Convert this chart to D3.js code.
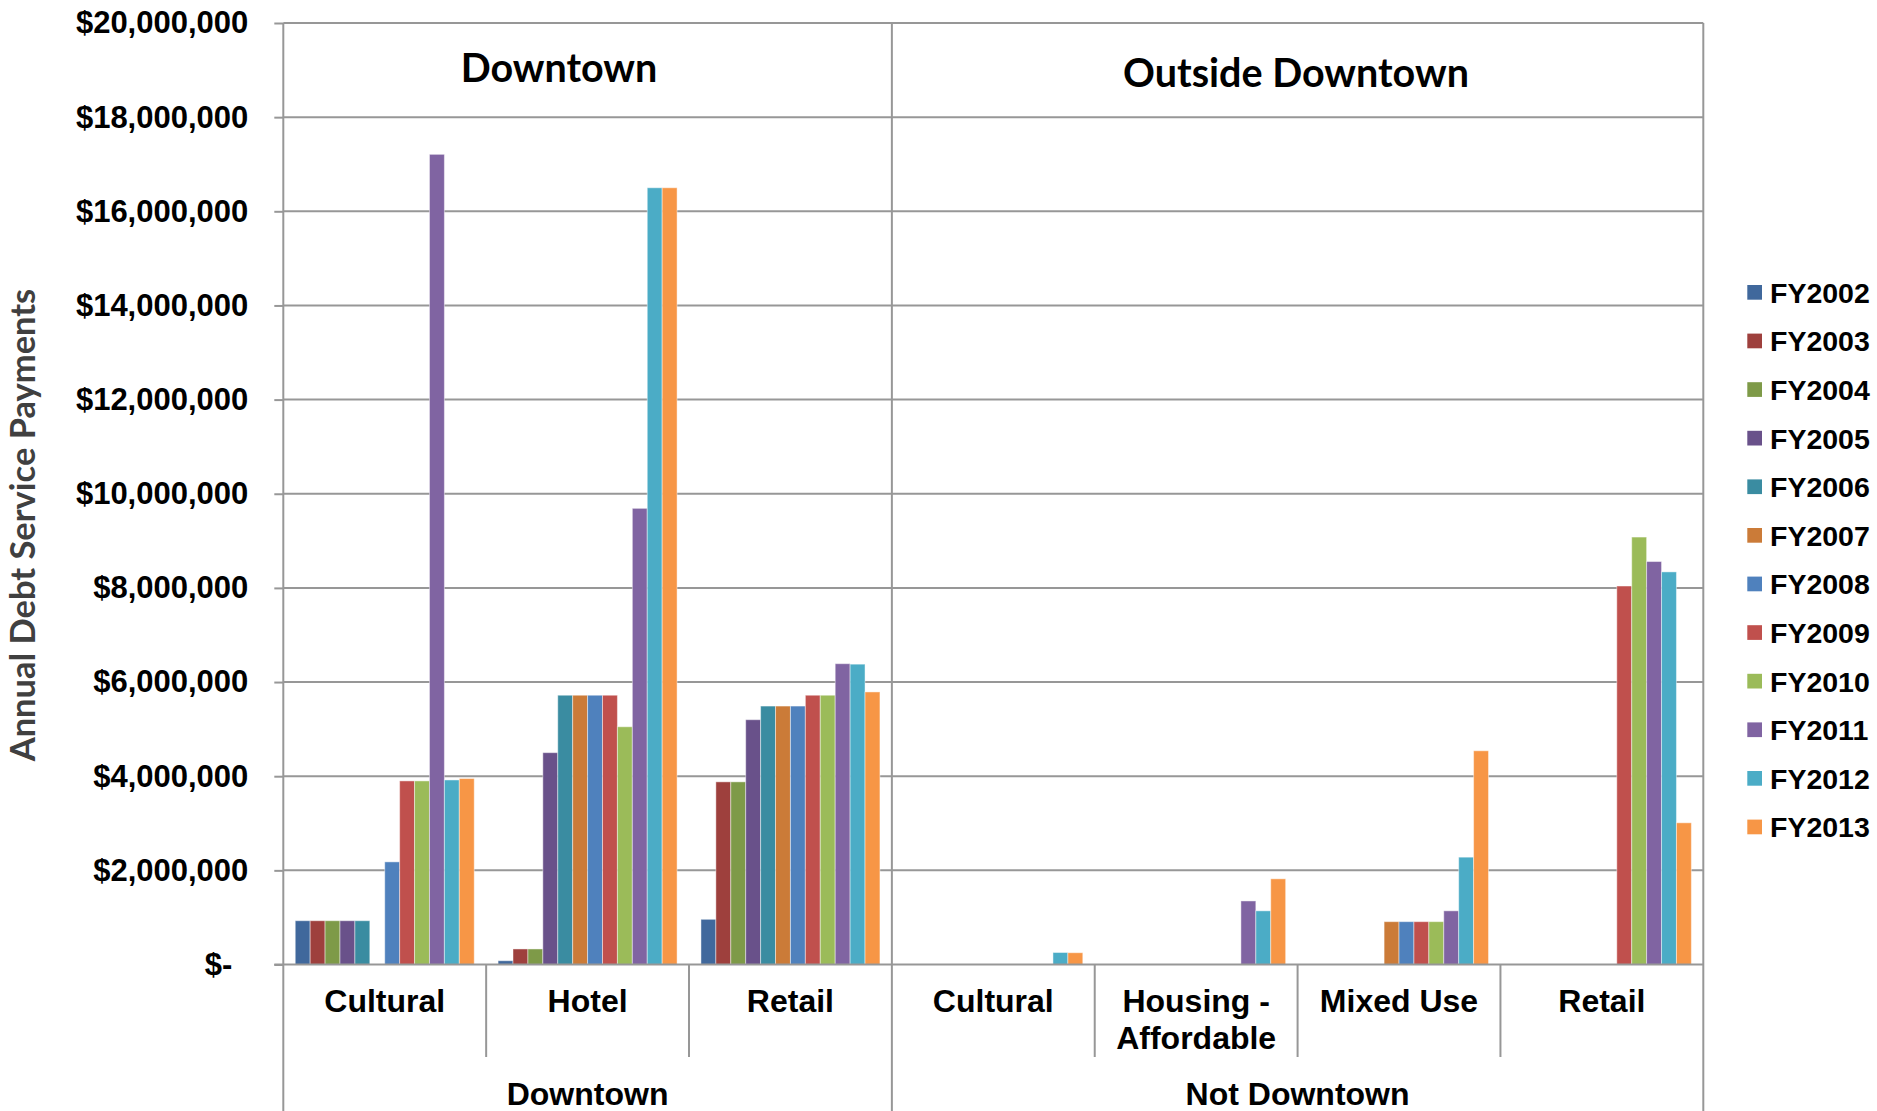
<!DOCTYPE html>
<html>
<head>
<meta charset="utf-8">
<script src="https://cdn.jsdelivr.net/npm/d3@7"></script>
<style>
	html, body { margin: 0; padding: 0; background: #fff; }
	svg { display: block; }
</style>
</head>
<body>
<div id="chart"></div>
<script>
// fiscal years = one series each
var years = ["FY2002", "FY2003", "FY2004", "FY2005", "FY2006", "FY2007",
	"FY2008", "FY2009", "FY2010", "FY2011", "FY2012", "FY2013"];
var yearColors = ["#40689c", "#9e403d", "#7e9a48", "#69518a", "#3a8ca1", "#cb7b38",
	"#4f81bd", "#c0504d", "#9bbb59", "#8064a2", "#4bacc6", "#f79646"];

// x categories, with the location group they belong to
var categories = ["Cultural", "Hotel", "Retail", "Cultural", "Housing - Affordable", "Mixed Use", "Retail"];
var categoryGroups = ["Downtown", "Downtown", "Downtown", "Not Downtown", "Not Downtown", "Not Downtown", "Not Downtown"];
var groupNames = ["Downtown", "Not Downtown"];
var panelTitles = ["Downtown", "Outside Downtown"];

// annual debt service payments ($), FY2002 .. FY2013
var downtownCultural = [930000, 930000, 930000, 930000, 930000, 0, 2180000, 3900000, 3900000, 17210000, 3920000, 3950000];
var downtownHotel = [80000, 330000, 330000, 4500000, 5720000, 5720000, 5720000, 5720000, 5050000, 9690000, 16500000, 16500000];
var downtownRetail = [960000, 3880000, 3880000, 5200000, 5490000, 5490000, 5490000, 5720000, 5720000, 6390000, 6380000, 5790000];
var outsideCultural = [0, 0, 0, 0, 0, 0, 0, 0, 0, 0, 255000, 250000];
var outsideHousing = [0, 0, 0, 0, 0, 0, 0, 0, 0, 1350000, 1140000, 1820000];
var outsideMixedUse = [0, 0, 0, 0, 0, 910000, 910000, 910000, 910000, 1140000, 2280000, 4540000];
var outsideRetail = [0, 0, 0, 0, 0, 0, 0, 8040000, 9080000, 8560000, 8340000, 3010000];

var categoryValues = [downtownCultural, downtownHotel, downtownRetail,
	outsideCultural, outsideHousing, outsideMixedUse, outsideRetail];

var yTicks = [0, 2000000, 4000000, 6000000, 8000000, 10000000, 12000000, 14000000, 16000000, 18000000, 20000000];

// layout
var width = 1877, height = 1111;
var plot = { left: 283.3, right: 1703.3, top: 23, bottom: 964.5 };
var gridColor = "#979797";
var arial = "'Liberation Sans', Arial, sans-serif";
var titleFont = "Lato, 'Open Sans', sans-serif";
var panelTitleX = [559, 1296], panelTitleY = [82, 86.5];

var svg = d3.select("#chart")
	.append("svg")
	.attr("width", width)
	.attr("height", height);

var x0 = d3.scaleBand()
	.domain(d3.range(categories.length))
	.range([plot.left, plot.right]);

var x1 = d3.scaleBand()
	.domain(years)
	.range([0, x0.bandwidth()])
	.paddingOuter(0.8);

var y = d3.scaleLinear()
	.domain([0, 20000000])
	.range([plot.bottom, plot.top]);

// gridlines
svg.append("g")
	.selectAll("line")
	.data(yTicks.slice(1))
	.join("line")
	.attr("x1", plot.left)
	.attr("x2", plot.right)
	.attr("y1", d => y(d))
	.attr("y2", d => y(d))
	.attr("stroke", gridColor)
	.attr("stroke-width", 2);

// y axis (ticks + labels)
var yAxis = svg.append("g")
	.attr("transform", "translate(" + plot.left + ",0)")
	.call(d3.axisLeft(y)
		.tickValues(yTicks)
		.tickSize(9)
		.tickPadding(26)
		.tickFormat(d => d === 0 ? "$-" : d3.format("$,")(d)));
yAxis.select(".domain").remove();
yAxis.selectAll("line").attr("stroke", gridColor).attr("stroke-width", 2);
yAxis.selectAll("text")
	.style("font-family", arial)
	.style("font-size", "31px")
	.style("font-weight", "bold")
	.attr("fill", "#000");
yAxis.selectAll("text").filter(d => d === 0).attr("dx", -16);

// bars
var groups = svg.append("g")
	.selectAll("g")
	.data(categoryValues)
	.join("g")
	.attr("transform", (d, i) => "translate(" + x0(i) + ",0)");

groups.selectAll("rect")
	.data(d => d.map((v, j) => ({ year: years[j], value: v, color: yearColors[j] })).filter(d => d.value > 0))
	.join("rect")
	.attr("x", d => x1(d.year))
	.attr("y", d => y(d.value))
	.attr("width", x1.bandwidth())
	.attr("height", d => y(0) - y(d.value))
	.attr("fill", d => d.color)
	.attr("stroke", "rgba(255,255,255,0.45)")
	.attr("stroke-width", 1);

// baseline
svg.append("line")
	.attr("x1", plot.left - 9)
	.attr("x2", plot.right)
	.attr("y1", y(0))
	.attr("y2", y(0))
	.attr("stroke", gridColor)
	.attr("stroke-width", 2);

// vertical lines: group boundaries run full height, category dividers only below the axis
var groupEdges = [plot.left];
var minorEdges = [];
categories.forEach((c, i) => {
	if (i == 0) return;
	if (categoryGroups[i] != categoryGroups[i - 1]) groupEdges.push(x0(i));
	else minorEdges.push(x0(i));
});
groupEdges.push(plot.right);

svg.append("g")
	.selectAll("line")
	.data(groupEdges)
	.join("line")
	.attr("x1", d => d).attr("x2", d => d)
	.attr("y1", plot.top).attr("y2", height)
	.attr("stroke", gridColor)
	.attr("stroke-width", 2);

svg.append("g")
	.selectAll("line")
	.data(minorEdges)
	.join("line")
	.attr("x1", d => d).attr("x2", d => d)
	.attr("y1", y(0)).attr("y2", 1057)
	.attr("stroke", gridColor)
	.attr("stroke-width", 2);

// category labels
var catLabels = svg.append("g")
	.style("font-family", arial)
	.style("font-size", "32px")
	.style("font-weight", "bold")
	.attr("text-anchor", "middle")
	.selectAll("text")
	.data(categories)
	.join("text")
	.attr("x", (d, i) => x0(i) + x0.bandwidth() / 2)
	.attr("y", 1012);

catLabels.selectAll("tspan")
	.data(d => d.replace(" - ", " -\n").split("\n"))
	.join("tspan")
	.attr("x", function () { return this.parentNode.getAttribute("x"); })
	.attr("dy", (d, i) => i == 0 ? 0 : 37)
	.text(d => d);

// group labels under the categories
svg.append("g")
	.style("font-family", arial)
	.style("font-size", "32px")
	.style("font-weight", "bold")
	.attr("text-anchor", "middle")
	.selectAll("text")
	.data(groupNames)
	.join("text")
	.attr("x", g => {
		var idx = d3.range(categories.length).filter(i => categoryGroups[i] == g);
		return (x0(idx[0]) + x0(idx[idx.length - 1]) + x0.bandwidth()) / 2;
	})
	.attr("y", 1105)
	.text(d => d);

// panel titles inside the plot
svg.append("g")
	.style("font-family", titleFont)
	.style("font-size", "39.5px")
	.style("font-weight", "bold")
	.attr("text-anchor", "middle")
	.selectAll("text")
	.data(panelTitles)
	.join("text")
	.attr("x", (d, i) => panelTitleX[i])
	.attr("y", (d, i) => panelTitleY[i])
	.text(d => d);

// y axis title
svg.append("text")
	.attr("transform", "translate(35,525) rotate(-90)")
	.attr("text-anchor", "middle")
	.style("font-family", titleFont)
	.style("font-size", "34.5px")
	.style("font-weight", "bold")
	.attr("fill", "#404040")
	.text("Annual Debt Service Payments");

// legend
var legend = svg.append("g")
	.selectAll("g")
	.data(years)
	.join("g")
	.attr("transform", (d, i) => "translate(1747.3," + (285 + i * 48.6) + ")");

legend.append("rect")
	.attr("width", 14.7)
	.attr("height", 14.7)
	.attr("fill", (d, i) => yearColors[i]);

legend.append("text")
	.attr("x", 22.7)
	.attr("y", 17.7)
	.style("font-family", arial)
	.style("font-size", "28.5px")
	.style("font-weight", "bold")
	.text(d => d);
</script>
</body>
</html>
